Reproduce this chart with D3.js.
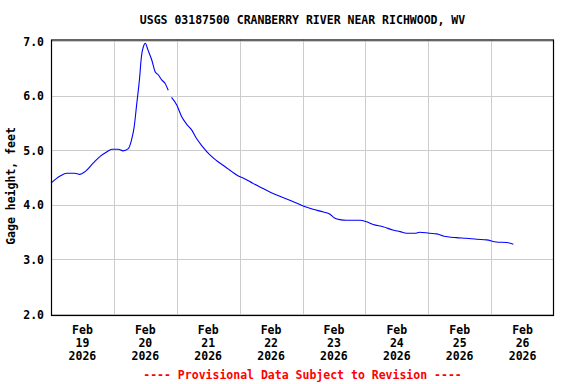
<!DOCTYPE html>
<html><head><meta charset="utf-8">
<script src="https://cdn.jsdelivr.net/npm/d3@7"></script>
<style>body{margin:0;background:#fff}svg{display:block}text{font-family:"DejaVu Sans Mono",monospace;font-weight:bold}</style>
</head><body><svg id="c" width="576" height="384"></svg>
<script>
const title = "USGS 03187500 CRANBERRY RIVER NEAR RICHWOOD, WV";
const yLabel = "Gage height, feet";
const footer = "---- Provisional Data Subject to Revision ----";
const tickMonth = "Feb";
const tickDays = ["19","20","21","22","23","24","25","26"];
const tickYear = "2026";
const yTicks = [2.0,3.0,4.0,5.0,6.0,7.0];
// hours since 2026-02-19 00:00
const hours = [0,3.5,6,9,11,13,16,18.75,21.25,23.25,25.75,27.5,29.5,30.75,31.75,32.75,33.75,34.5,35.5,36,37,38.5,39.75,41,42.25,43.5,44.75,45.5,46,48,49.75,51.75,53.75,55.5,58,60.75,63.25,66.5,69,71.5,73.5,77.25,81,84.75,88.75,92.5,96.25,100,104,106.5,108.25,110.25,112.75,118,120.5,123,126.75,130.5,133.25,135.75,139,140.75,144.5,147.25,149.75,154.75,158.5,162.5,166.25,170,174,176.5];
const gage = [4.40,4.53,4.58,4.58,4.56,4.61,4.76,4.89,4.97,5.02,5.02,4.99,5.03,5.19,5.43,5.86,6.29,6.71,6.93,6.96,6.84,6.65,6.44,6.38,6.29,6.23,6.10,null,5.97,5.83,5.63,5.48,5.37,5.22,5.06,4.91,4.81,4.70,4.61,4.53,4.49,4.39,4.30,4.21,4.13,4.06,3.98,3.92,3.87,3.83,3.76,3.73,3.72,3.72,3.69,3.64,3.60,3.54,3.51,3.48,3.48,3.50,3.48,3.47,3.43,3.40,3.39,3.37,3.36,3.32,3.31,3.28];

const t0 = Date.UTC(2026,1,19);
const H = 3600e3;
const data = hours.map((h,i)=>({t:new Date(t0+h*H), v:gage[i]}));

const svg = d3.select("#c");
const L=51, R=554, T=39.5, B=316;
const x = d3.scaleUtc().domain([new Date(t0), new Date(t0+8*24*H)]).range([L,R]);
const y = d3.scaleLinear().domain([1.965,7.03]).range([B,T]);

const g = svg.append("g");
// gridlines
g.selectAll(".gy").data(yTicks).join("line")
 .attr("x1",L).attr("x2",R).attr("y1",d=>Math.round(y(d))+0.5).attr("y2",d=>Math.round(y(d))+0.5)
 .attr("stroke","#cccccc").attr("stroke-width",1);
const midnights = d3.range(1,8).map(d=>new Date(t0+d*24*H));
g.selectAll(".gx").data(midnights).join("line")
 .attr("x1",d=>Math.round(x(d))+0.5).attr("x2",d=>Math.round(x(d))+0.5).attr("y1",T).attr("y2",B)
 .attr("stroke","#cccccc").attr("stroke-width",1);

// line
const line = d3.line().defined(d=>d.v!=null).x(d=>x(d.t)).y(d=>y(d.v)).curve(d3.curveMonotoneX);
g.append("path").datum(data).attr("d",line).attr("fill","none").attr("stroke","#0000ff").attr("stroke-width",1.1);

// frame
g.append("rect").attr("x",L+0.5).attr("y",T+0.5).attr("width",R-L-1).attr("height",B-T-1)
 .attr("fill","none").attr("stroke","#000").attr("stroke-width",1.2);

// y tick labels
g.selectAll(".yl").data(yTicks).join("text")
 .attr("x",44).attr("y",d=>y(d)+4.5).attr("text-anchor","end")
 .attr("font-size","11.5px").text(d=>d.toFixed(1));

// y axis title
svg.append("text").attr("transform","translate(15,186) rotate(-90)").attr("text-anchor","middle")
 .attr("font-size","11.5px").text(yLabel);

// x tick labels
const xt = g.selectAll(".xl").data(tickDays).join("text")
 .attr("text-anchor","middle").attr("font-size","11.5px");
xt.each(function(d,i){
  const cx = x(new Date(t0 + (i*24+12)*H));
  const s = d3.select(this);
  s.append("tspan").attr("x",cx).attr("y",334).text(tickMonth);
  s.append("tspan").attr("x",cx).attr("y",347).text(d);
  s.append("tspan").attr("x",cx).attr("y",360).text(tickYear);
});

// title
svg.append("text").attr("x",(L+R)/2).attr("y",24).attr("text-anchor","middle")
 .attr("font-size","11.5px").text(title);
// footer
svg.append("text").attr("x",(L+R)/2).attr("y",379).attr("text-anchor","middle")
 .attr("font-size","11.5px").attr("fill","#ff0000").text(footer);
</script></body></html>
